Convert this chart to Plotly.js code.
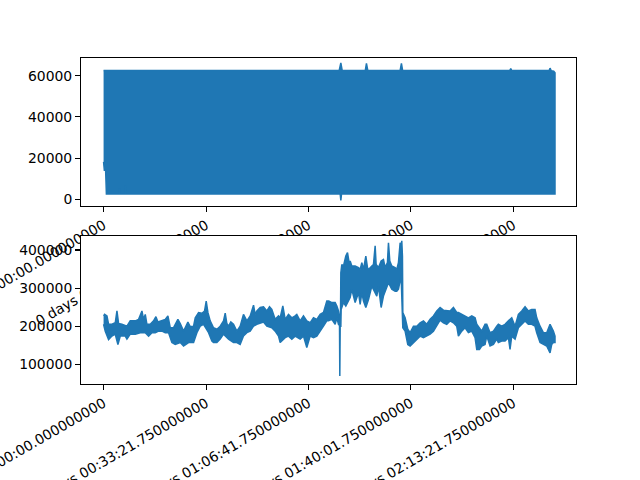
<!DOCTYPE html>
<html><head><meta charset="utf-8">
<script src="https://cdn.plot.ly/plotly-3.0.1.min.js"></script>
<style>body{margin:0;background:#fff}</style>
</head><body>
<div id="chart" style="width:640px;height:480px"></div>
<script>
// x tick positions (seconds) and their labels
const tickSeconds = [0, 2001.75, 4001.75, 6001.75, 8001.75];
const tickLabels = [
  "0 days 00:00:00.000000000",
  "0 days 00:33:21.750000000",
  "0 days 01:06:41.750000000",
  "0 days 01:40:01.750000000",
  "0 days 02:13:21.750000000"
];

// Top panel: dense oscillating signal, read as its upper and lower envelope
const counterUpperT = [0, 4600, 4633, 4660, 5110, 5133, 5160, 5790, 5816, 5840, 7930, 7951, 7970, 8700, 8718, 8740, 8790, 8815];
const counterUpperV = [62500, 62500, 66200, 62500, 62500, 66000, 62500, 62500, 66000, 62500, 62500, 63500, 62500, 62500, 63700, 62500, 62200, 61500];
const counterLowerT = [0, 15, 40, 55, 300, 310, 320, 420, 425, 432, 4620, 4633, 4646, 8815];
const counterLowerV = [18200, 14100, 14100, 2600, 2600, 5200, 2600, 2600, 6800, 2600, 2600, -500, 2600, 2600];

// Bottom panel: noisy signal, upper and lower envelope of the drawn line
const totalUpperT = [0,20,66,98,163,228,261,293,358,456,521,619,684,749,781,814,846,911,976,1022,1061,1139,1204,1256,1302,1367,1412,1451,1497,1562,1607,1646,1692,1757,1790,1855,1920,1972,2004,2037,2082,2147,2212,2277,2342,2375,2407,2440,2485,2537,2602,2667,2732,2798,2863,2928,2960,2993,3058,3123,3188,3240,3285,3350,3416,3448,3500,3546,3611,3676,3741,3773,3838,3903,3968,4034,4099,4164,4229,4294,4359,4398,4457,4522,4555,4587,4613,4626,4633,4652,4685,4730,4763,4795,4815,4847,4912,4978,5010,5043,5075,5121,5153,5173,5238,5270,5303,5322,5368,5420,5465,5498,5543,5563,5589,5628,5693,5725,5758,5791,5810,5823,5836,5843,5888,5940,5986,6051,6116,6181,6246,6311,6376,6441,6506,6571,6636,6701,6766,6831,6896,6929,6994,7059,7124,7189,7254,7287,7339,7384,7449,7482,7547,7612,7677,7709,7774,7839,7905,7970,8035,8100,8165,8230,8295,8360,8425,8458,8523,8588,8653,8718,8783,8815];
const totalUpperV = [227000,231000,227000,205000,205000,209000,240000,207000,205000,200000,214000,214000,218000,240000,218000,231000,205000,205000,214000,225000,211000,214000,218000,227000,196000,196000,209000,218000,207000,187000,200000,211000,199000,200000,222000,236000,234000,240000,266000,236000,214000,196000,192000,200000,214000,234000,207000,200000,211000,205000,187000,200000,231000,214000,227000,255000,231000,240000,249000,251000,240000,251000,244000,218000,227000,222000,253000,218000,231000,222000,227000,231000,214000,227000,214000,209000,222000,218000,231000,236000,266000,266000,262000,262000,253000,240000,218000,218000,340000,362000,358000,384000,393000,367000,371000,358000,358000,354000,349000,367000,349000,384000,354000,349000,358000,362000,411000,362000,354000,371000,375000,354000,367000,419000,371000,358000,354000,349000,367000,419000,402000,424000,384000,236000,222000,192000,183000,200000,200000,209000,214000,205000,218000,227000,240000,249000,242000,240000,240000,249000,236000,236000,231000,227000,222000,227000,222000,205000,196000,187000,205000,205000,183000,187000,200000,205000,200000,205000,214000,222000,200000,231000,240000,251000,240000,244000,244000,222000,200000,183000,183000,205000,187000,174000];
const totalLowerT = [0,33,98,163,228,280,326,423,456,521,619,716,814,879,944,1009,1074,1139,1204,1269,1334,1399,1497,1562,1659,1757,1822,1887,1952,2050,2115,2147,2212,2277,2342,2440,2537,2602,2667,2732,2798,2863,2928,2993,3058,3123,3188,3285,3350,3416,3448,3546,3611,3676,3741,3773,3838,3903,3968,4034,4099,4164,4229,4294,4359,4392,4457,4522,4555,4587,4607,4613,4620,4633,4639,4685,4730,4763,4815,4847,4912,4978,5010,5043,5075,5121,5173,5238,5303,5335,5368,5420,5465,5498,5563,5628,5693,5725,5758,5810,5843,5888,5940,5986,6051,6116,6181,6246,6311,6376,6441,6506,6571,6636,6701,6766,6831,6896,6929,6994,7059,7124,7189,7254,7287,7339,7384,7449,7482,7547,7612,7677,7709,7774,7839,7905,7937,7970,8035,8100,8165,8230,8295,8360,8425,8458,8523,8588,8653,8718,8750,8783,8815];
const totalLowerV = [205000,187000,165000,174000,179000,152000,174000,174000,166000,179000,179000,183000,183000,174000,183000,183000,187000,187000,183000,183000,157000,152000,157000,148000,157000,157000,183000,200000,205000,183000,161000,157000,157000,166000,179000,166000,157000,157000,152000,174000,183000,187000,200000,205000,209000,211000,200000,196000,187000,174000,157000,170000,174000,166000,174000,170000,166000,174000,144000,174000,170000,174000,187000,200000,214000,214000,218000,205000,222000,205000,202000,69000,200000,200000,244000,262000,253000,262000,275000,297000,262000,288000,257000,288000,266000,249000,270000,305000,288000,279000,305000,249000,279000,288000,314000,297000,292000,292000,297000,332000,196000,187000,152000,148000,157000,166000,174000,170000,174000,179000,187000,200000,216000,209000,205000,214000,209000,200000,174000,187000,196000,183000,187000,170000,139000,139000,148000,152000,174000,148000,152000,166000,157000,161000,161000,170000,139000,174000,166000,196000,205000,214000,205000,205000,200000,183000,157000,152000,148000,130000,152000,157000,157000];

const BLUE = '#1f77b4';
function band(tU, vU, tL, vL, xa, ya) {
  return {
    type: 'scatter', mode: 'lines',
    x: tU.concat(tL.slice().reverse()),
    y: vU.concat(vL.slice().reverse()),
    fill: 'toself', fillcolor: BLUE,
    line: {color: BLUE, width: 1.5},
    xaxis: xa, yaxis: ya, hoverinfo: 'skip'
  };
}

const traces = [
  band(counterUpperT, counterUpperV, counterLowerT, counterLowerV, 'x', 'y'),
  band(totalUpperT, totalUpperV, totalLowerT, totalLowerV, 'x2', 'y2')
];

const font = {family: 'DejaVu Sans', size: 13.9, color: 'black'};
const axisBase = {
  showline: true, mirror: true, linecolor: 'black', linewidth: 1.1,
  ticks: 'outside', ticklen: 4.9, tickwidth: 1.1, tickcolor: 'black',
  showgrid: false, zeroline: false, tickfont: font, ticklabeloverflow: 'allow'
};
const xBase = Object.assign({}, axisBase, {
  range: [-441, 9225], tickmode: 'array', tickvals: tickSeconds, ticktext: tickLabels, tickangle: -30
});

const layout = {
  width: 640, height: 480,
  margin: {l: 81, r: 64, t: 58, b: 96},
  paper_bgcolor: 'white', plot_bgcolor: 'white', showlegend: false,
  xaxis: Object.assign({}, xBase, {anchor: 'y', domain: [0, 1]}),
  yaxis: Object.assign({}, axisBase, {anchor: 'x', domain: [0.546, 1], range: [-3270, 68630],
    tickmode: 'array', tickvals: [0, 20000, 40000, 60000], tickformat: 'd'}),
  xaxis2: Object.assign({}, xBase, {anchor: 'y2', domain: [0, 1]}),
  yaxis2: Object.assign({}, axisBase, {anchor: 'x2', domain: [0, 0.454], range: [48300, 436700],
    tickmode: 'array', tickvals: [100000, 200000, 300000, 400000], tickformat: 'd'}),
  // white backdrop of the lower panel (hides the upper panel's overhanging tick labels, as in the original)
  shapes: [{type: 'rect', xref: 'x2', yref: 'y2', x0: -1e7, x1: 1e7, y0: -1e9, y1: 1e9,
    fillcolor: 'white', line: {width: 0}, layer: 'between'}]
};

Plotly.newPlot('chart', traces, layout, {staticPlot: true, displayModeBar: false});
</script>
</body></html>
